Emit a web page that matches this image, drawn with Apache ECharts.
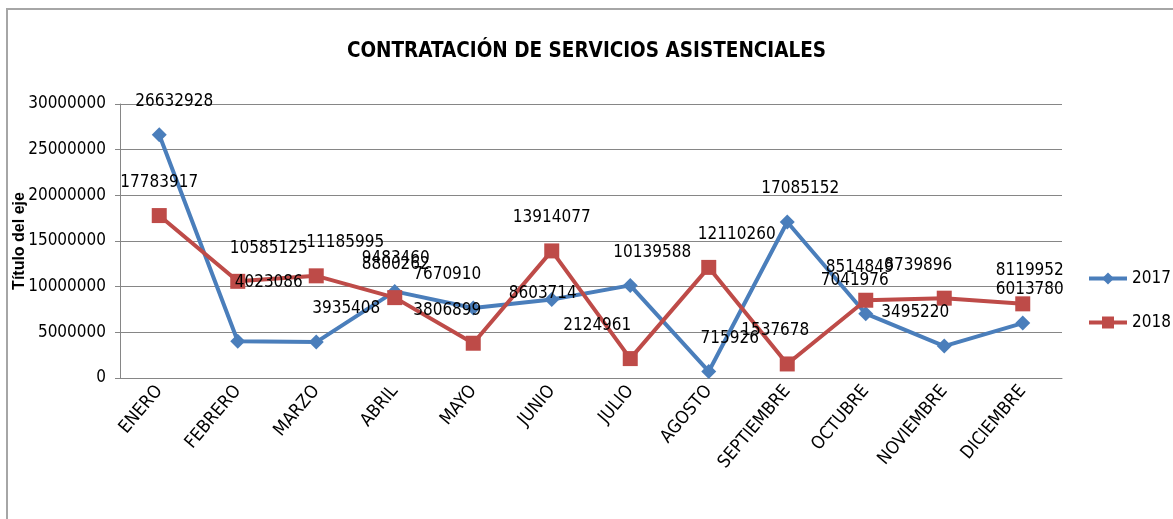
<!DOCTYPE html>
<html>
<head>
<meta charset="utf-8">
<script src="https://cdn.jsdelivr.net/npm/echarts@6/dist/echarts.min.js"></script>
<style>
  html, body { margin: 0; padding: 0; background: #fff; }
  #contratacion { width: 1173px; height: 519px; }
</style>
</head>
<body>
<div id="contratacion"></div>
<script>
// For initialisation
var chart = echarts.init(document.getElementById('contratacion'));

const meses = ['ENERO', 'FEBRERO', 'MARZO', 'ABRIL', 'MAYO', 'JUNIO', 'JULIO', 'AGOSTO', 'SEPTIEMBRE', 'OCTUBRE', 'NOVIEMBRE', 'DICIEMBRE'];
const valores2017 = [26632928, 4023086, 3935408, 9483460, 7670910, 8603714, 10139588, 715926, 17085152, 7041976, 3495220, 6013780];
const valores2018 = [17783917, 10585125, 11185995, 8800262, 3806899, 13914077, 2124961, 12110260, 1537678, 8514849, 8739896, 8119952];
const ejeY = [0, 5000000, 10000000, 15000000, 20000000, 25000000, 30000000];

// label nudges, as in the original (excel moved some labels around)
const nudge2017 = [[15, 0], [31, -26], [30, 0], [1, 0], [-26, 0], [-9, 27], [22, 0], [21, 0], [13, 0], [-11, 0], [-29, 0], [7, 0]];
const nudge2018 = [[0, 0], [31, 0], [29, 0], [1, 0], [-26, 0], [0, 0], [-33, 0], [28, 0], [-12, 0], [-6, 0], [-26, 0], [7, 0]];

const fuente = '"DejaVu Sans Condensed", "DejaVu Sans", sans-serif';
// narrow look of the original (calibri-ish)
const estiramiento = 'condensed';

function armar(valores, nudge) {
  return valores.map(function (v, i) {
    return { value: v, label: { offset: nudge[i] } };
  });
}

var option = {
  animation: false,
  title: {
    text: 'CONTRATACIÓN DE SERVICIOS ASISTENCIALES',
    left: 'center',
    top: 36,
    textStyle: { fontFamily: fuente, fontStyle: estiramiento, fontSize: 20.5, fontWeight: 'bold', color: '#000' }
  },
  legend: {
    orient: 'vertical',
    left: 1082,
    top: 265,
    itemWidth: 38,
    itemHeight: 15,
    itemGap: 27,
    lineStyle: { width: 4 },
    textStyle: { fontFamily: fuente, fontStyle: estiramiento, fontSize: 17, color: '#000' },
    data: ['2017', '2018']
  },
  grid: { left: 120, right: 111, top: 104, bottom: 141, containLabel: false, outerBoundsMode: 'none' },
  xAxis: {
    type: 'category',
    data: meses,
    boundaryGap: true,
    axisLine: { lineStyle: { color: '#868686', width: 1 } },
    axisTick: { show: false },
    axisLabel: { rotate: 50, fontFamily: fuente, fontStyle: estiramiento, fontSize: 18, color: '#000', margin: 10 }
  },
  yAxis: {
    type: 'value',
    min: ejeY[0],
    max: ejeY[ejeY.length - 1],
    interval: ejeY[1] - ejeY[0],
    name: 'Título del eje',
    nameLocation: 'middle',
    nameGap: 92,
    nameMoveOverlap: false,
    nameTextStyle: { fontFamily: '"Liberation Sans", Arial, sans-serif', fontSize: 16, fontWeight: 'bold', color: '#000' },
    axisLine: { show: true, lineStyle: { color: '#868686', width: 1 } },
    axisTick: { show: true, length: 5, lineStyle: { color: '#868686' } },
    splitLine: { lineStyle: { color: '#868686', width: 1 } },
    axisLabel: {
      fontFamily: fuente, fontStyle: estiramiento, fontSize: 17, color: '#000', margin: 14,
      formatter: function (v) { return String(v); }
    }
  },
  series: [
    {
      name: '2017',
      type: 'line',
      data: armar(valores2017, nudge2017),
      symbol: 'diamond',
      symbolSize: 15,
      lineStyle: { color: '#4a7ebb', width: 4 },
      itemStyle: { color: '#4a7ebb' },
      label: { show: true, position: 'top', distance: 17, fontFamily: fuente, fontStyle: estiramiento, fontSize: 17, color: '#000' }
    },
    {
      name: '2018',
      type: 'line',
      data: armar(valores2018, nudge2018),
      symbol: 'rect',
      symbolSize: 15,
      lineStyle: { color: '#be4b48', width: 4 },
      itemStyle: { color: '#be4b48' },
      label: { show: true, position: 'top', distance: 17, fontFamily: fuente, fontStyle: estiramiento, fontSize: 17, color: '#000' }
    }
  ],
  graphic: [
    {
      type: 'rect',
      silent: true,
      shape: { x: 7, y: 9, width: 1300, height: 700 },
      style: { fill: 'none', stroke: '#a6a6a6', lineWidth: 2 }
    }
  ]
};

chart.setOption(option);
</script>
</body>
</html>
